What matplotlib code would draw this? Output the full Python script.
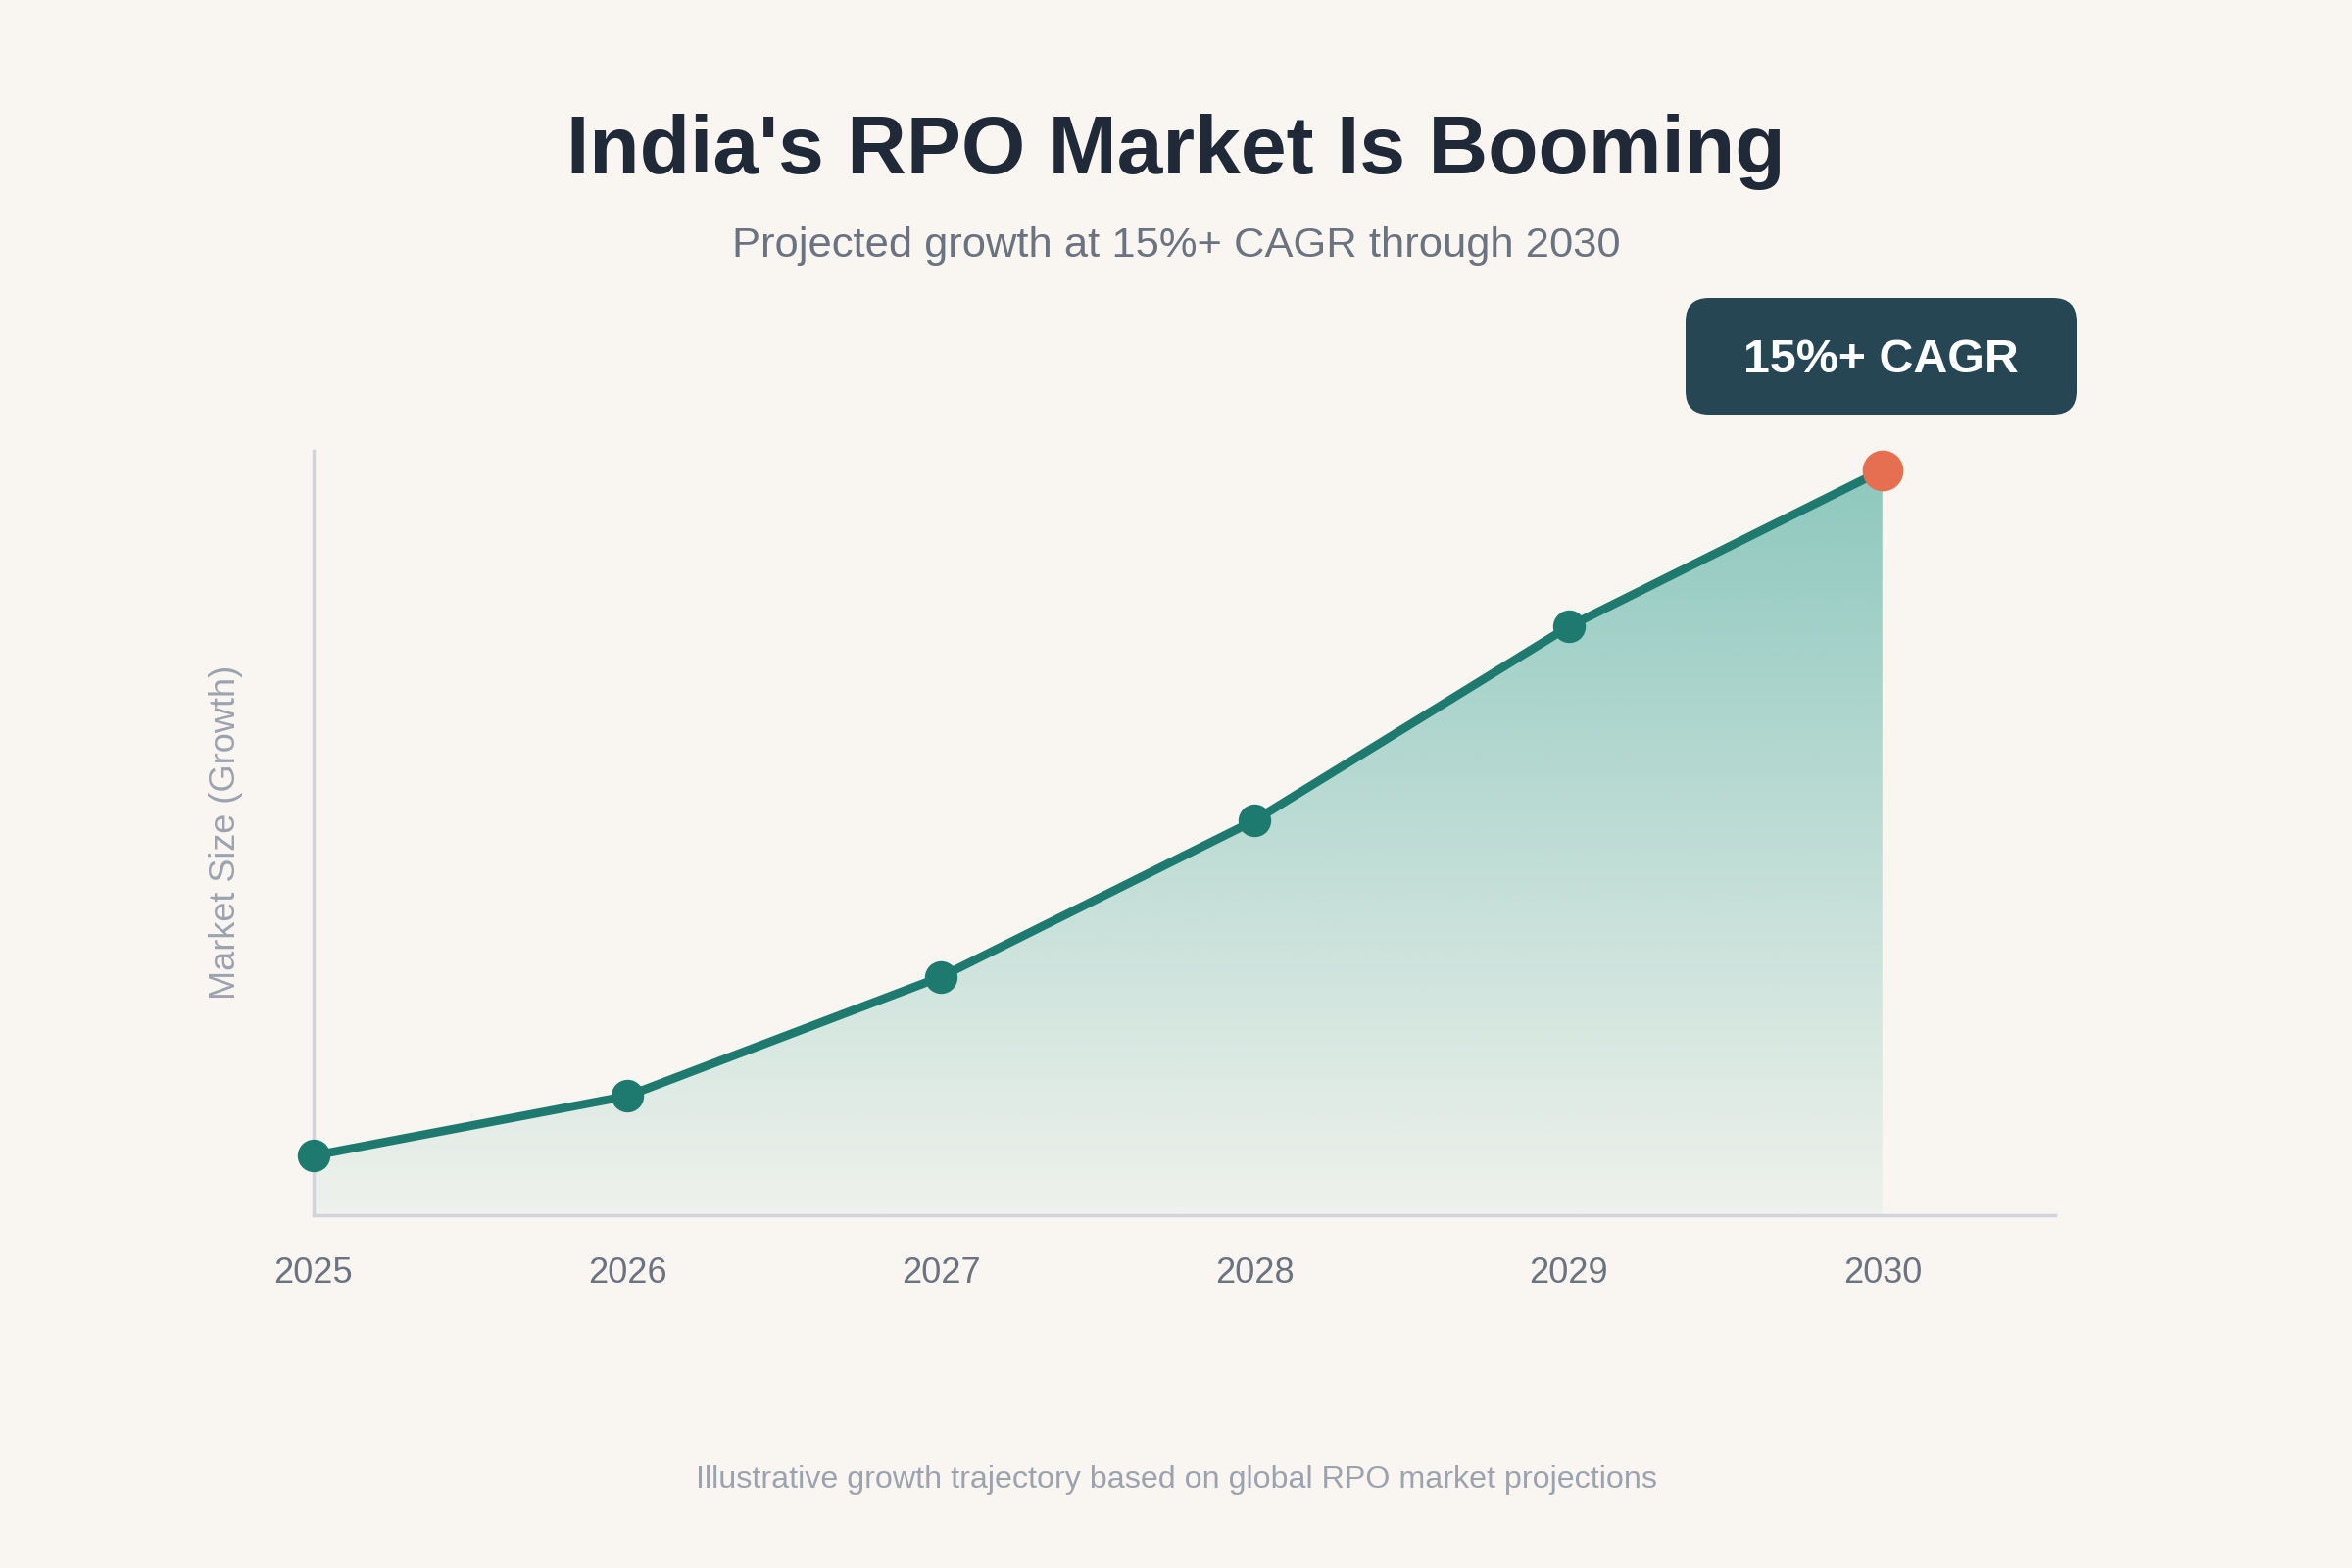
import numpy as np
import matplotlib
matplotlib.use("Agg")
import matplotlib.pyplot as plt
from matplotlib.patches import FancyBboxPatch
from matplotlib.transforms import IdentityTransform

# chart data
years = [2025, 2026, 2027, 2028, 2029, 2030]
market = [8, 16, 32, 53, 79, 100]
tick_labels = ["2025", "2026", "2027", "2028", "2029", "2030"]
badge_text = "15%+ CAGR"

bg = "#f9f6f1"
teal = "#1e7a6e"
fill_teal = "#2a9d8f"
orange = "#e76f51"

plt.rcParams['font.family'] = ['Liberation Sans', 'DejaVu Sans']

fig = plt.figure(figsize=(24, 16), dpi=100, facecolor=bg)
ax = fig.add_axes([0.1333, 0.225, 0.8737 - 0.1333, 0.7125 - 0.225])
ax.set_facecolor(bg)

ax.set_xlim(2025, 2030.55)
ax.set_ylim(0, 102.6)

# gradient fill under the line
fill = ax.fill_between(years, market, 0, color="none", lw=0)
grad = np.linspace(0.05, 0.52, 256).reshape(-1, 1)
rgba = np.zeros((256, 1, 4))
rgba[..., :3] = matplotlib.colors.to_rgb(fill_teal)
rgba[..., 3] = grad
img = ax.imshow(rgba, extent=[years[0], years[-1], 0, max(market)], origin="lower",
                aspect="auto", zorder=1, interpolation="bilinear")
img.set_clip_path(fill.get_paths()[0], transform=ax.transData)

ax.plot(years, market, color=teal, lw=6.3, zorder=3, solid_capstyle="round", clip_on=False)
ax.plot(years[:-1], market[:-1], "o", color=teal, ms=23, zorder=4, clip_on=False)
ax.plot(years[-1], market[-1], "o", color=orange, ms=29, zorder=5, clip_on=False)

for s in ["top", "right"]:
    ax.spines[s].set_visible(False)
for s in ["left", "bottom"]:
    ax.spines[s].set_color("#d1d5db")
    ax.spines[s].set_linewidth(2.5)
ax.set_yticks([])
ax.set_xticks(years)
ax.set_xticklabels(tick_labels)
ax.tick_params(axis="x", length=0, pad=30, labelsize=26, labelcolor="#6b7280")

fig.text(231 / 2400, 1 - 849 / 1600, "Market Size (Growth)", rotation=90,
         ha="center", va="center", fontsize=26, color="#9ca3af")

fig.text(0.5, 1 - 155 / 1600, "India's RPO Market Is Booming", ha="center", va="center",
         fontsize=60.5, fontweight="bold", color="#1f2937")
fig.text(0.5, 1 - 251 / 1600, "Projected growth at 15%+ CAGR through 2030", ha="center",
         va="center", fontsize=31.3, color="#6b7280")
fig.text(0.5, 1 - 1510 / 1600, "Illustrative growth trajectory based on global RPO market projections",
         ha="center", va="center", fontsize=23.2, color="#9ca3af")

# CAGR badge
badge = FancyBboxPatch((1720, 1600 - 423), 399, 119,
                       boxstyle="round,pad=0,rounding_size=24",
                       transform=IdentityTransform(), facecolor="#264653",
                       edgecolor="none")
fig.add_artist(badge)
fig.text(1919.5 / 2400, 1 - 367 / 1600, badge_text, ha="center", va="center",
         fontsize=34.8, fontweight="bold", color="white")

fig.savefig("out.png", dpi=100, facecolor=bg)
